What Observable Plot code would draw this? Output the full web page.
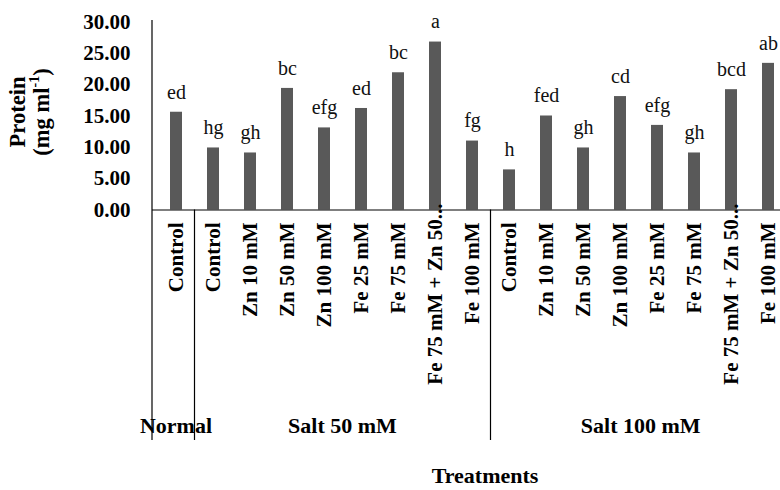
<!DOCTYPE html>
<html><head><meta charset="utf-8">
<script src="https://cdn.jsdelivr.net/npm/d3@7"></script>
<script src="https://cdn.jsdelivr.net/npm/@observablehq/plot@0.6"></script>
<style>
html,body{margin:0;padding:0;background:#fff;overflow:hidden;}
#chart{width:780px;height:490px;overflow:hidden;}
#chart svg{max-width:none !important;}
#chart svg, #chart svg text, #chart svg tspan{font-family:"Liberation Serif","DejaVu Serif",serif !important;}
</style></head><body><div id="chart"></div>
<script>
const groups = ["Normal", "Salt 50 mM", "Salt 100 mM"];
const groupIndex = [0, 1, 1, 1, 1, 1, 1, 1, 1, 2, 2, 2, 2, 2, 2, 2, 2];
const treatments = ["Control", "Control", "Zn 10 mM", "Zn 50 mM", "Zn 100 mM", "Fe 25 mM", "Fe 75 mM", "Fe 75 mM + Zn 50...", "Fe 100 mM",
                    "Control", "Zn 10 mM", "Zn 50 mM", "Zn 100 mM", "Fe 25 mM", "Fe 75 mM", "Fe 75 mM + Zn 50...", "Fe 100 mM"];
const protein = [15.6, 9.9, 9.1, 19.4, 13.1, 16.2, 21.9, 26.8, 11.0, 6.4, 15.0, 9.9, 18.1, 13.5, 9.1, 19.2, 23.4];
const letters = ["ed", "hg", "gh", "bc", "efg", "ed", "bc", "a", "fg", "h", "fed", "gh", "cd", "efg", "gh", "bcd", "ab"];
const yTicks = [0, 5, 10, 15, 20, 25, 30];
const yTitle = "Protein";
const yUnit = ["(mg ml", "-1", ")"];
const xTitle = "Treatments";

const data = treatments.map((t, i) => ({
  key: i, label: t, group: groupIndex[i], value: protein[i], letter: letters[i], truncated: t.endsWith("...")
}));

const serif = "Liberation Serif";
const W = 791, H = 490;
const plot = Plot.plot({
  width: W, height: H,
  marginLeft: 152, marginRight: 0, marginTop: 21.5, marginBottom: 280.5,
  style: {background: "#fff", overflow: "visible", maxWidth: "none", color: "#000"},
  x: {domain: data.map(d => d.key), paddingInner: 0.68, paddingOuter: 0.34, axis: null},
  y: {domain: [0, 30]},
  marks: [
    Plot.axisY({ticks: yTicks, tickSize: 0, tickPadding: 22, tickFormat: d => d.toFixed(2), fontSize: 21, fontWeight: "bold", label: null}),
    Plot.barY(data, {x: "key", y: "value", fill: "#595959"}),
    Plot.text(data, {x: "key", y: "value", text: "letter", dy: -20, fontSize: 20, fill: "#111"}),
    Plot.text(data.filter(d => !d.truncated), {x: "key", frameAnchor: "bottom", text: "label", rotate: -90, textAnchor: "end", lineAnchor: "middle", dy: 12.5, fontSize: 21, fontWeight: "bold", fill: "#000"}),
    Plot.text(data.filter(d => d.truncated), {x: "key", frameAnchor: "bottom", text: "label", rotate: -90, textAnchor: "end", lineAnchor: "middle", dy: -6.5, fontSize: 21, fontWeight: "bold", fill: "#000"}),
    Plot.ruleY([0], {stroke: "#000", strokeWidth: 1.2})
  ]
});
document.getElementById("chart").append(plot);

const svg = d3.select(plot);
const xs = plot.scale("x"), ys = plot.scale("y");
const gap = (xs.step - xs.bandwidth) / 2;
const boundary = i => i < data.length ? xs.apply(i) - gap : xs.range[1];
const bottom = H - 50;

// y axis line
svg.append("line").attr("x1", xs.range[0]).attr("x2", xs.range[0])
  .attr("y1", ys.apply(30) - 1.5).attr("y2", bottom).attr("stroke", "#000").attr("stroke-width", 1.2);

// group separators and labels
groups.forEach((g, gi) => {
  const idx = data.filter(d => d.group === gi).map(d => d.key);
  const first = d3.min(idx), last = d3.max(idx);
  if (gi > 0) {
    svg.append("line").attr("x1", boundary(first)).attr("x2", boundary(first))
      .attr("y1", ys.apply(0)).attr("y2", bottom).attr("stroke", "#000").attr("stroke-width", 1.2);
  }
  svg.append("text").attr("x", (boundary(first) + boundary(last + 1)) / 2).attr("y", H - 62)
    .attr("text-anchor", "middle").attr("dominant-baseline", "middle")
    .attr("font-size", 22).attr("font-weight", "bold").attr("fill", "#000").text(g);
});

// x title
svg.append("text").attr("x", 485).attr("y", H - 12)
  .attr("text-anchor", "middle").attr("dominant-baseline", "middle")
  .attr("font-size", 22).attr("font-weight", "bold").attr("fill", "#000").text(xTitle);

// y title (two lines, rotated)
const yMid = 112;
svg.append("text").attr("transform", `translate(20,${yMid}) rotate(-90)`)
  .attr("text-anchor", "middle").attr("dominant-baseline", "middle")
  .attr("font-size", 22.5).attr("font-weight", "bold").attr("fill", "#000").text(yTitle);
const u = svg.append("text").attr("transform", `translate(44,${yMid}) rotate(-90)`)
  .attr("text-anchor", "middle").attr("dominant-baseline", "middle")
  .attr("font-size", 22.5).attr("font-weight", "bold").attr("fill", "#000");
u.append("tspan").text(yUnit[0]);
u.append("tspan").attr("font-size", 14).attr("dy", -8).text(yUnit[1]);
u.append("tspan").attr("dy", 8).text(yUnit[2]);
</script></body></html>
